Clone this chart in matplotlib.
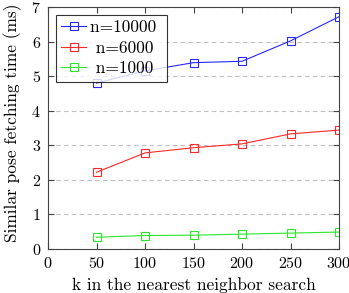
import matplotlib
matplotlib.use("Agg")
import matplotlib.pyplot as plt

plt.rcParams['font.family'] = 'serif'
plt.rcParams['font.serif'] = ['cmr10', 'DejaVu Serif']
plt.rcParams['mathtext.fontset'] = 'cm'
plt.rcParams['axes.formatter.use_mathtext'] = True

k = [50, 100, 150, 200, 250, 300]
n10000 = [4.80, 5.15, 5.39, 5.43, 6.02, 6.72]
n6000 = [2.22, 2.78, 2.93, 3.04, 3.33, 3.44]
n1000 = [0.34, 0.39, 0.40, 0.43, 0.46, 0.49]
labels = ['n=10000', 'n=6000', 'n=1000']
colors = ['#2828ff', '#ff2828', '#28e828']

fig = plt.figure(figsize=(3.49, 2.93), dpi=100)
ax = fig.add_axes([48/349, 44/293, 291/349, 242/293])

for ys, lab, c in zip([n10000, n6000, n1000], labels, colors):
    ax.plot(k, ys, color=c, lw=0.8, marker='s', ms=6, mfc='none', mec=c, mew=0.8, label=lab)

ax.set_xlim(0, 300)
ax.set_ylim(0, 7)
ax.set_xticks(range(0, 301, 50))
ax.set_yticks(range(0, 8))
ax.yaxis.grid(True, ls=(0, (4, 3)), color='#c0c0c0', lw=0.8)
ax.set_axisbelow(True)
ax.tick_params(direction='in', top=True, right=True, labelsize=11.5, length=4, color='#444444', pad=5)
for s in ax.spines.values():
    s.set_color('#444444')
    s.set_linewidth(0.8)
ax.set_xlabel('k in the nearest neighbor search', fontsize=12.5)
ax.set_ylabel('Similar pose fetching time (ms)', fontsize=12.5)
ax.xaxis.set_label_coords(0.5, -0.118)
ax.yaxis.set_label_coords(-0.089, 0.52)
leg = ax.legend(loc='upper left', fontsize=12.5, fancybox=False, edgecolor='black',
                borderaxespad=0.45, handlelength=1.44, handletextpad=0.23, borderpad=0.3,
                labelspacing=0.3)
leg.get_frame().set_linewidth(0.8)
for t in leg.get_texts():
    t.set_text(t.get_text() + ' ')
for t in leg.get_texts()[1:]:
    t.set_text(' ' + t.get_text())
fig.savefig('out.png', dpi=100)
